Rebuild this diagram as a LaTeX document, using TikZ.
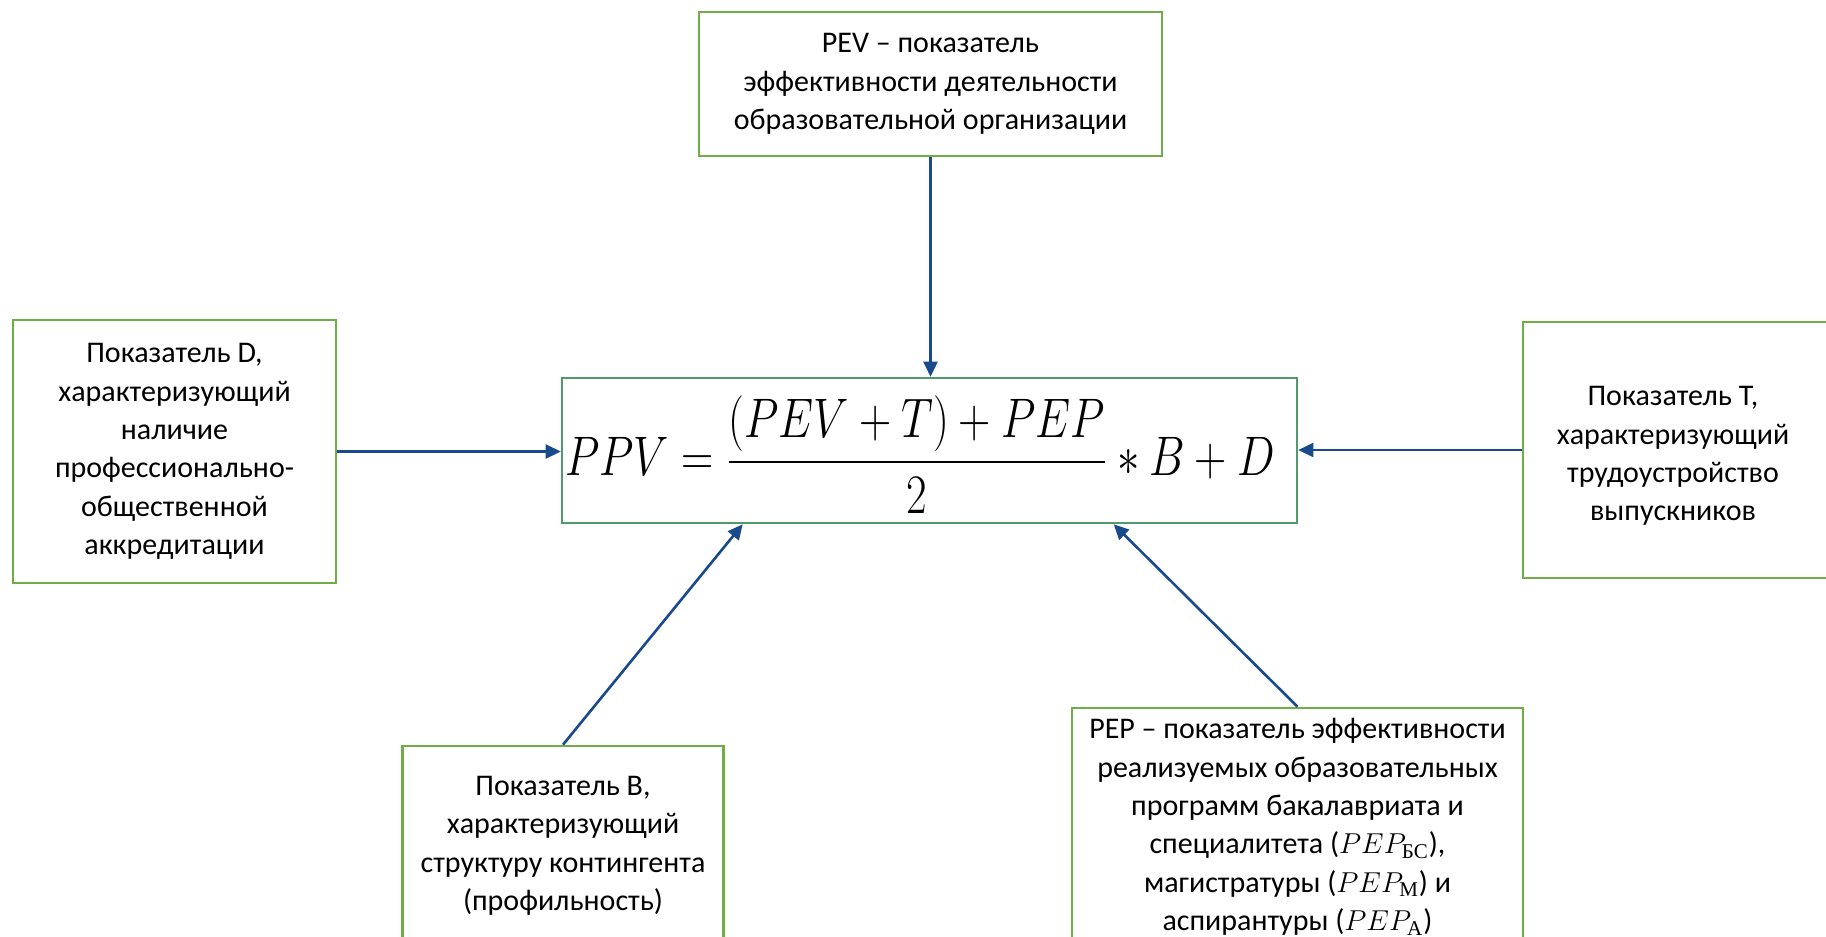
\documentclass[tikz,border=0pt]{standalone}
\usepackage{amsmath}
\usepackage{graphicx}
\usepackage{fontspec}
\setmainfont{Carlito}
\newfontfamily\cyrserif{Liberation Serif}
\usetikzlibrary{arrows.meta,calc}
\definecolor{boxgreen}{RGB}{112,173,71}
\definecolor{midgreen}{RGB}{80,155,105}
\definecolor{arrowblue}{RGB}{24,74,140}
\newcommand{\sub}[1]{\text{\cyrserif #1}}
\tikzset{
  infobox/.style={draw=boxgreen, line width=1.3pt, align=center, inner sep=0pt,
    font=\fontsize{15}{19.2}\selectfont},
  plaintext/.style={align=center, inner sep=0pt, font=\fontsize{15}{19.2}\selectfont},
  formulabox/.style={draw=midgreen, line width=1.3pt, inner sep=0pt},
  conn/.style={draw=arrowblue, line width=1.3pt, -{Triangle[width=7pt,length=7.5pt]}}
}
\begin{document}
\begin{tikzpicture}[x=0.5pt,y=-0.5pt]
\useasboundingbox (0,0) rectangle (1826,937);
\node[infobox, minimum width=231.5pt, minimum height=72pt] (top) at (930.5,84)
  {PEV – показатель\\эффективности деятельности\\образовательной организации};
\node[infobox, minimum width=161.5pt, minimum height=131.5pt] (left) at (174.5,451.5)
  {Показатель D,\\характеризующий\\наличие\\профессионально-\\общественной\\аккредитации};
\node[infobox, minimum width=161pt, minimum height=128pt] (right) at (1684,450) {};
\node[plaintext] (righttext) at (1673,456)
  {Показатель Т,\\характеризующий\\трудоустройство\\выпускников};
\node[infobox, minimum width=160.5pt, minimum height=100pt] (bbox) at (563,846)
  {Показатель В,\\характеризующий\\структуру контингента\\(профильность)};
\node[infobox, minimum width=225.5pt, minimum height=119pt] (pep) at (1297.5,827)
  {PEP – показатель эффективности\\реализуемых образовательных\\программ бакалавриата и\\специалитета ($PEP_{\sub{БС}}$),\\магистратуры ($PEP_{\sub{М}}$) и\\аспирантуры ($PEP_{\sub{А}}$)};
\node[formulabox, minimum width=367.5pt, minimum height=72.5pt] (c) at (929.5,450.5) {};
\node[inner sep=0pt, font=\fontsize{23}{28}\selectfont] (f) at (920,455)
  {\scalebox{0.9}[1.12]{$\displaystyle PPV=\frac{(PEV+T)+PEP}{2}*B+D$}};
\draw[conn] (top.south) -- (top.south |- c.north);
\draw[conn] (left.east) -- (left.east -| c.west);
\draw[conn] (right.west) -- (right.west -| c.east);
\draw[conn] (bbox.north) -- ($(c.south west)+(182,0)$);
\draw[conn] (pep.north) -- ($(c.south west)+(553,0)$);
\end{tikzpicture}
\end{document}
